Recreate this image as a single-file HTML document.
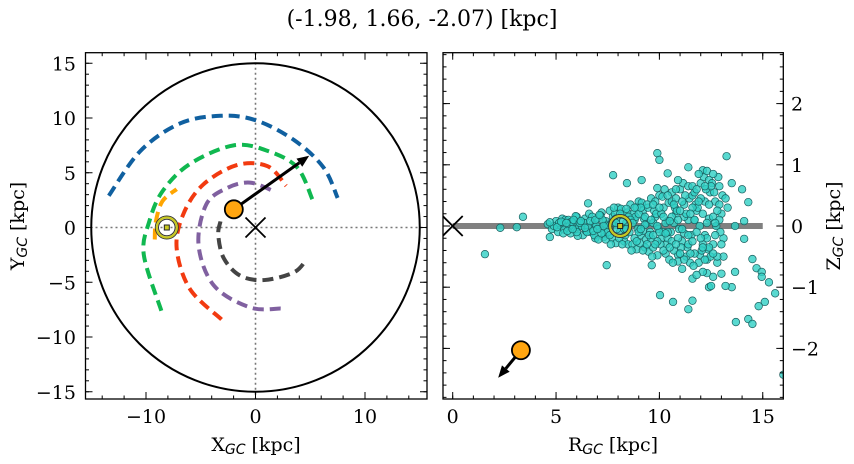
<!DOCTYPE html>
<html><head><meta charset="utf-8"><style>
html,body{margin:0;padding:0;background:#fff;}
svg{display:block;font-family:"DejaVu Serif","Liberation Serif",serif;}
</style></head><body>
<svg id="c" width="854" height="464" viewBox="0 0 854 464"></svg>
<script>
// ---- data ----
const titleText = "(-1.98, 1.66, -2.07) [kpc]";
const leftXTicks = [-10, 0, 10];
const leftYTicks = [-15, -10, -5, 0, 5, 10, 15];
const rightXTicks = [0, 5, 10, 15];
const rightYTicks = [-2, -1, 0, 1, 2];
const blueX = [-13.4,-10.5,-6.9,-3.2,0,3.5,6.2,7.5];
const blueY = [2.9,7.0,9.5,10.2,9.8,8.0,5.5,2.7];
const greenX = [-8.6,-10.2,-9.7,-8.5,-6,-2,1.1,3.8,5.2];
const greenY = [-7.6,-2.5,0.55,3.3,5.8,7.5,7,5.5,2.55];
const orangeX = [-9.2,-9.1,-8.5,-7.2];
const orangeY = [-1.1,0.55,2.4,3.5];
const redX = [-3.1,-6,-7.2,-6.6,-4.8,-1.7,1.1,2.8];
const redY = [-8.4,-5.6,-1.9,1.2,3.9,5.7,5.6,3.8];
const purpleX = [2.3,-0.5,-3.8,-5.2,-4.5,-2.6,-0.5,1.7];
const purpleY = [-7.4,-7.3,-5.3,-1.6,2.1,3.6,4.1,3.3];
const grayX = [-3.2,-3.4,-2.9,-1.4,0.8,3.5,4.6];
const grayY = [0.55,-0.7,-2.8,-4.4,-4.8,-4.1,-3.0];
const objXY = [-1.98, 1.66];
const objVelTipXY = [4.9, 6.55];
const sunXY = [-8.1, 0];
const objRZ = [3.3, -2.03];
const objVelTipRZ = [2.2, -2.48];
const sunRZ = [8.1, 0];
const starsR = [1.56,2.3,3.1,3.4,4.7,6.55,7.76,7.45,8.43,9.14,9.9,10,10.4,11.4,12.1,13.25,13.5,14,14.3,14.1,13.66,14.1,14.5,14.7,14.95,14.95,15.3,15.6,15.1,14.8,14.3,14.5,13.7,13.5,13.2,12.4,12.5,12.6,12.3,13,12.8,13.66,11.6,11.4,11.6,10.66,10.03,9.63,11.96,13.1,10.9,16,
4.6,4.8,5.0,5.1,5.2,5.3,5.4,4.9,5.45,5.35,4.7,5.15,
5.6,5.7,5.8,5.9,6.0,6.1,6.2,6.3,6.4,5.65,5.95,6.05,6.25,6.45,5.75,6.35,
6.6,6.7,6.8,6.9,7.0,7.1,7.2,7.3,7.4,6.55,6.75,6.95,7.15,7.35,7.45,6.85,7.05,7.25,
7.6,7.7,7.8,7.9,8.0,8.1,8.2,8.3,8.4,7.55,7.75,7.95,8.15,8.35,8.45,7.65,7.85,8.05,8.25,8.48,
8.6,8.7,8.8,8.9,9.0,9.1,9.2,9.3,9.4,8.55,8.75,8.95,9.15,9.35,9.45,8.65,8.85,9.05,9.25,9.48,8.9,9.2,
9.6,9.7,9.8,9.9,10.0,10.1,10.2,10.3,10.4,9.55,9.75,9.95,10.15,10.35,10.45,9.65,9.85,10.05,10.25,10.48,9.9,10.2,9.7,10.4,
10.6,10.7,10.8,10.9,11.0,11.1,11.2,11.3,11.4,10.55,10.75,10.95,11.15,11.35,11.45,10.65,10.85,11.05,11.25,11.48,10.9,11.2,10.7,11.4,10.6,11.1,
11.6,11.7,11.8,11.9,12.0,12.1,12.2,12.3,12.4,11.55,11.75,11.95,12.15,12.35,12.45,11.65,11.85,12.05,12.25,12.48,11.9,12.2,11.7,12.4,11.6,12.1,12.3,11.8,
12.55,12.6,12.7,12.8,12.9,13.0,13.1,12.65,12.75,12.85,12.95,13.05,12.6,12.9,13.2,13.3,
5.05,5.25,5.55,5.85,6.15,6.5,6.65,6.9,7.1,7.3,7.5,7.7,7.9,8.1,8.3,8.5,7.4,6.8,7.6,8.2,8.4,7.8,7.2,6.4,6.0,5.5,
8.6,8.8,9.0,9.2,9.4,9.6,9.8,10.0,10.2,10.4,10.6,10.8,11.0,11.2,11.4,11.6,11.8,12.0,12.2,12.4,12.6,12.8,13.0,
8.7,8.9,9.1,9.3,9.5,9.7,9.9,10.1,10.3,10.5,10.7,10.9,11.1,11.3,11.5,11.7,11.9,12.1,12.3,12.5,12.7,12.9,
9.0,9.4,9.8,10.2,10.6,11.0,11.4,11.8,12.2,12.6,10.0,10.4,10.8,11.2,11.6,12.0,12.4,8.8,9.6,10.8,
9.3,9.9,10.5,11.1,11.7,12.3,9.1,9.7,10.3,10.9,11.5,12.1,12.7,8.4,7.9,7.0,6.2,5.8];
const starsZ = [-0.46,-0.03,-0.02,0.15,-0.18,0.37,0.83,-0.64,0.70,0.75,1.19,1.08,0.86,0.96,0.91,1.14,0.7,0.6,0.39,0.08,0,-0.21,-0.54,-0.69,-0.75,-0.83,-0.92,-1.1,-1.24,-1.31,-1.52,-1.6,-1.57,-1.0,-0.98,-1.0,-0.98,-0.83,-0.77,-0.78,-0.6,-0.75,-0.86,-1.36,-1.22,-1.24,-1.13,-0.64,-0.47,-0.5,-0.47,-2.43,
0.03,-0.05,0.08,-0.1,0.02,0.12,-0.06,0,0.1,-0.12,0.06,0.05,
0.1,-0.12,0.04,-0.06,0.15,-0.02,0.08,-0.15,0.12,0,0.16,-0.16,0,-0.08,0.07,0.05,
0.2,-0.1,0.05,-0.2,0.12,-0.05,0.22,-0.18,0.08,-0.02,0.15,0,0.17,-0.12,0.02,-0.15,-0.22,0.1,
0.25,-0.2,0.1,-0.28,0.3,-0.1,0.18,-0.25,0.05,0,0.15,-0.05,0.28,-0.15,0.22,-0.3,0.2,-0.2,0.08,-0.3,
0.35,-0.3,0.1,-0.38,0.4,-0.15,0.25,-0.35,0.05,-0.1,0.2,-0.05,0.38,-0.22,0.3,-0.4,0.15,-0.28,0.12,-0.42,0.3,-0.08,
0.45,-0.35,0.15,-0.48,0.5,-0.2,0.3,-0.45,0.08,-0.1,0.25,-0.05,0.48,-0.3,0.38,-0.5,0.2,-0.3,0.6,-0.55,0.62,-0.1,0.05,-0.2,
0.55,-0.4,0.2,-0.58,0.6,-0.25,0.35,-0.5,0.1,-0.1,0.3,-0.05,0.7,-0.35,0.45,-0.6,0.25,-0.35,0.5,-0.6,0.75,-0.12,0.05,0.65,0.4,-0.7,
0.65,-0.45,0.25,-0.6,0.7,-0.3,0.4,-0.55,0.12,-0.15,0.35,0,0.8,-0.38,0.55,-0.65,0.3,-0.4,0.6,-0.5,0.85,-0.15,0.1,0.75,0.5,-0.75,0.9,-0.8,
0.7,-0.3,0.4,-0.5,0.65,0.2,-0.2,0.55,0,0.8,-0.1,0.5,0.85,0.35,0.45,0.3,
-0.02,0.07,-0.08,0.1,0.05,-0.1,0.08,0.1,0.18,0,-0.1,0.05,0.12,0.2,-0.05,0.15,-0.22,-0.08,-0.15,-0.3,0.28,0.3,-0.12,-0.03,-0.1,0.05,
0.1,-0.2,0.2,-0.4,0.35,-0.2,0.4,-0.1,-0.4,0.5,-0.25,0.45,-0.45,0.15,-0.3,0.3,-0.1,0.45,-0.55,0.35,0.15,0.25,-0.3,
0.05,-0.25,0.3,0.15,-0.15,0.35,-0.25,0.2,0.05,-0.35,0.35,-0.2,0.4,0.2,-0.45,0.55,0.4,0.2,-0.2,0.65,-0.15,0.1,
-0.1,-0.3,-0.3,0.15,0.15,0.25,-0.15,0.6,0.65,-0.45,0.3,-0.1,-0.3,-0.55,-0.25,-0.2,-0.35,0.3,0.1,0.6,
0.02,0.0,0.08,-0.05,0.1,0.05,-0.05,-0.15,-0.12,0.1,0.2,-0.35,0.05,-0.05,0.05,-0.05,0.08,-0.05];

// ---- helpers ----
const NS = "http://www.w3.org/2000/svg";
const svg = document.getElementById('c');
function el(tag, attrs, parent){
  const e = document.createElementNS(NS, tag);
  for (const k in attrs) e.setAttribute(k, attrs[k]);
  (parent || svg).appendChild(e);
  return e;
}
const L = {x0:85.5, x1:427, y0:52.7, y1:399};
const lx = v => 255.5 + v*10.95;
const ly = v => 227.5 - v*10.95;
const R = {x0:443, x1:783.3, y0:52.7, y1:399};
const rx = v => 452.7 + v*20.67;
const ry = v => 226 - v*61.2;

let t = el('text', {x:422, y:26, 'text-anchor':'middle', 'font-size':22, fill:'#000'});


t.textContent = titleText;

const defs = el('defs', {});
const cl = el('clipPath', {id:'clipL'}, defs);
el('rect', {x:L.x0, y:L.y0, width:L.x1-L.x0, height:L.y1-L.y0}, cl);
const cr = el('clipPath', {id:'clipR'}, defs);
el('rect', {x:R.x0, y:R.y0, width:R.x1-R.x0, height:R.y1-R.y0}, cr);

// ---------- LEFT PANEL ----------
const gL = el('g', {'clip-path':'url(#clipL)'});


let e;
e = el('line', {x1:L.x0, x2:L.x1, y1:ly(0), y2:ly(0), stroke:'#777', 'stroke-width':1.6, 'stroke-dasharray':'2,3'}, gL);


e = el('line', {x1:lx(0), x2:lx(0), y1:L.y0, y2:L.y1, stroke:'#777', 'stroke-width':1.6, 'stroke-dasharray':'2,3'}, gL);


e = el('ellipse', {cx:lx(0), cy:ly(0), rx:15*10.95, ry:15*10.95, fill:'none', stroke:'#000', 'stroke-width':2}, gL);



function smoothPath(px, py){
  let d = `M${px[0]},${py[0]}`;
  for (let i=0;i<px.length-1;i++){
    const x0=px[Math.max(i-1,0)], y0=py[Math.max(i-1,0)];
    const x1=px[i], y1=py[i], x2=px[i+1], y2=py[i+1];
    const x3=px[Math.min(i+2,px.length-1)], y3=py[Math.min(i+2,px.length-1)];
    d += ` C${x1+(x2-x0)/6},${y1+(y2-y0)/6} ${x2-(x3-x1)/6},${y2-(y3-y1)/6} ${x2},${y2}`;
  }
  return d;
}
function arc(xs, ys, color, name){
  const p = el('path', {d:smoothPath(xs.map(lx), ys.map(ly)), fill:'none', stroke:color, 'stroke-width':4, 'stroke-dasharray':'11,6'}, gL);
  
  
}
arc(blueX, blueY, '#1060a0', 'orbit-blue');
arc(greenX, greenY, '#10b850', 'orbit-green');
arc(orangeX, orangeY, '#ffa500', 'orbit-orange');
arc(redX, redY, '#f23a10', 'orbit-red');
arc(purpleX, purpleY, '#8060a0', 'orbit-purple');
arc(grayX, grayY, '#444444', 'orbit-gray');

function xMark(cx, cy, g, name){
  const gg = el('g', {}, g);
  
  
  el('line', {x1:cx-10, y1:cy-10, x2:cx+10, y2:cy+10, stroke:'#000', 'stroke-width':1.8}, gg);
  el('line', {x1:cx-10, y1:cy+10, x2:cx+10, y2:cy-10, stroke:'#000', 'stroke-width':1.8}, gg);
}
function sun(cx, cy, g, name){
  const gg = el('g', {}, g);
  
  
  el('circle', {cx, cy, r:11.5, fill:'none', stroke:'#333', 'stroke-width':1}, gg);
  el('circle', {cx, cy, r:10, fill:'none', stroke:'#c8c820', 'stroke-width':2.2}, gg);
  el('circle', {cx, cy, r:8.3, fill:'none', stroke:'#333', 'stroke-width':1}, gg);
  el('rect', {x:cx-2.5, y:cy-2.5, width:5, height:5, fill:'#c8c820', stroke:'#222', 'stroke-width':1}, gg);
}
function arrow(x1,y1,x2,y2,g,name){
  const gg = el('g', {}, g);
  
  
  const dx=x2-x1, dy=y2-y1, len=Math.hypot(dx,dy), ux=dx/len, uy=dy/len;
  const hl=12, hw=5;
  const bx=x2-ux*hl, by=y2-uy*hl;
  el('line', {x1, y1, x2:bx, y2:by, stroke:'#000', 'stroke-width':3}, gg);
  el('polygon', {points:`${x2},${y2} ${bx-uy*hw},${by+ux*hw} ${bx+uy*hw},${by-ux*hw}`, fill:'#000'}, gg);
}
xMark(lx(0), ly(0), gL, 'galactic-center-marker');
sun(lx(sunXY[0]), ly(sunXY[1]), gL, 'sun-marker');
arrow(lx(objXY[0]), ly(objXY[1]), lx(objVelTipXY[0]), ly(objVelTipXY[1]), gL, 'velocity-arrow');
e = el('circle', {cx:lx(objXY[0]), cy:ly(objXY[1]), r:9, fill:'#ffa510', stroke:'#000', 'stroke-width':1.8}, gL);



// ---------- RIGHT PANEL ----------
const gR = el('g', {'clip-path':'url(#clipR)'});


e = el('line', {x1:rx(0), x2:rx(15), y1:ry(0), y2:ry(0), stroke:'#808080', 'stroke-width':6}, gR);


const gS = el('g', {}, gR);


starsR.forEach((r,i)=>{
  const c = el('circle', {cx:rx(r), cy:ry(starsZ[i]), r:3.8, fill:'#30cfc4', 'fill-opacity':0.8, stroke:'#1a5e5e', 'stroke-width':0.7}, gS);
  
  
});
xMark(rx(0), ry(0), gR, 'galactic-center-marker-rz');
sun(rx(sunRZ[0]), ry(sunRZ[1]), gR, 'sun-marker-rz');
arrow(rx(objRZ[0]), ry(objRZ[1]), rx(objVelTipRZ[0]), ry(objVelTipRZ[1]), gR, 'velocity-arrow-rz');
e = el('circle', {cx:rx(objRZ[0]), cy:ry(objRZ[1]), r:9, fill:'#ffa510', stroke:'#000', 'stroke-width':1.8}, gR);



// ---------- AXES ----------
function frame(A, name){
  const r = el('rect', {x:A.x0, y:A.y0, width:A.x1-A.x0, height:A.y1-A.y0, fill:'none', stroke:'#000', 'stroke-width':1.3});
  
  
}
frame(L, 'xy-axes-frame'); frame(R, 'rz-axes-frame');
const gT = el('g', {stroke:'#000', 'stroke-width':1});


function xt(A, f, lo, hi, step, len){
  for (let v=lo; v<=hi+1e-9; v+=step){ const x=f(v); if(x<A.x0||x>A.x1) continue;
    el('line',{x1:x,x2:x,y1:A.y1,y2:A.y1-len},gT); el('line',{x1:x,x2:x,y1:A.y0,y2:A.y0+len},gT); }
}
function yt(A, f, lo, hi, step, len){
  for (let v=lo; v<=hi+1e-9; v+=step){ const y=f(v); if(y<A.y0||y>A.y1) continue;
    el('line',{x1:A.x0,x2:A.x0+len,y1:y,y2:y},gT); el('line',{x1:A.x1,x2:A.x1-len,y1:y,y2:y},gT); }
}
xt(L, lx, -16, 16, 2, 3.5); xt(L, lx, -10, 10, 10, 7);
yt(L, ly, -16, 16, 1, 3.5); yt(L, ly, -15, 15, 5, 7);
xt(R, rx, 0, 16, 1, 3.5); xt(R, rx, 0, 15, 5, 7);
yt(R, ry, -2.8, 2.8, 0.2, 3.5); yt(R, ry, -2, 2, 1, 7);

function label(x,y,txt,anchor,name){
  const tt = el('text',{x,y,'text-anchor':anchor,'font-size':19,fill:'#000'});
  
  
  tt.textContent = txt; return tt;
}
const fmt = v => (v<0 ? '\u2212'+(-v) : ''+v);
leftXTicks.forEach(v=>label(lx(v), 423, fmt(v), 'middle', 'x-tick-label'));
leftYTicks.forEach(v=>label(76, ly(v)+7, fmt(v), 'end', 'y-tick-label'));
rightXTicks.forEach(v=>label(rx(v), 423, fmt(v), 'middle', 'r-tick-label'));
rightYTicks.forEach(v=>label(791, ry(v)+7, fmt(v), 'start', 'z-tick-label'));

function axTitle(x,y,main,sub,rot,name){
  const tt = el('text',{x,y,'text-anchor':'middle','font-size':19,fill:'#000'});
  if(rot) tt.setAttribute('transform',`rotate(-90 ${x} ${y})`);
  
  
  const a = el('tspan',{},tt); a.textContent = main;
  const b = el('tspan',{'font-size':14,'font-style':'italic','font-family':'DejaVu Sans, sans-serif',dy:3},tt); b.textContent = sub;
  const c = el('tspan',{dy:-3},tt); c.textContent = ' [kpc]';
}
axTitle(256, 451, 'X', 'GC', false, 'x-axis-title');
axTitle(613, 451, 'R', 'GC', false, 'r-axis-title');
axTitle(24, 226, 'Y', 'GC', true, 'y-axis-title');
axTitle(840, 226, 'Z', 'GC', true, 'z-axis-title');
</script>
</body></html>
